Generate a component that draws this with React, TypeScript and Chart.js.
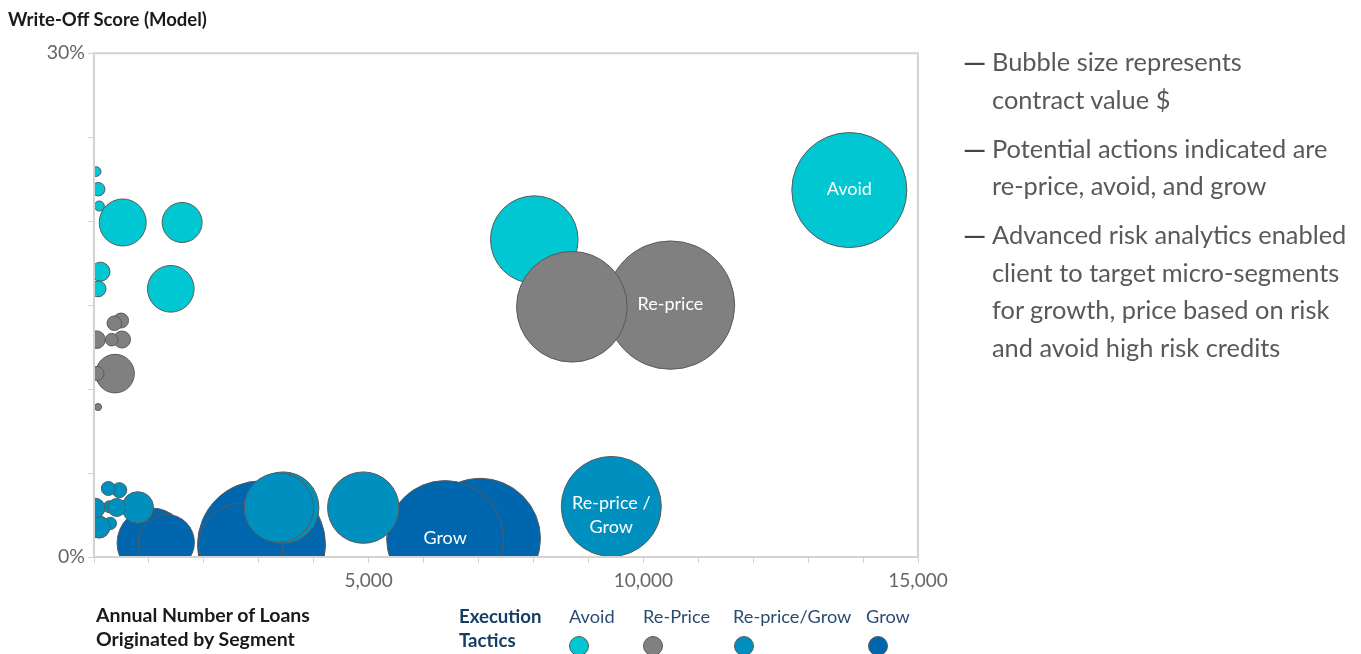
import React, { useEffect, useRef } from 'react';
import { Chart, registerables } from 'chart.js';

Chart.register(...registerables);

const FONT = 'Lato, "Noto Sans", sans-serif';

// ---- data: x = annual number of loans, y = write-off score (%), v = contract value (bubble size)
const avoidX = [40, 78, 97, 523, 1604, 118, 73, 1398, 8015, 13750];
const avoidY = [22.95, 21.9, 20.9, 19.92, 19.92, 16.99, 15.97, 15.97, 18.9, 21.85];
const avoidV = [5.8, 11.2, 6.3, 138, 100, 22.6, 16, 136, 480, 827];
const avoidLabels = ['', '', '', '', '', '', '', '', '', 'Avoid'];

const repriceX = [10494, 8699, 492, 370, 510, 323, 46, 383, 55, 73];
const repriceY = [15.0, 14.9, 14.08, 13.92, 12.95, 12.94, 12.94, 10.92, 10.93, 8.93];
const repriceV = [1030, 765, 14.1, 13.3, 18.1, 9.9, 19.4, 93.1, 12.3, 3.1];
const repriceLabels = ['Re-price', '', '', '', '', '', '', '', '', ''];

const repriceGrowX = [9417, 4902, 3444, 3366, 461, 261, 796, 279, 414, 297, 91, 18];
const repriceGrowY = [3.01, 2.94, 2.94, 2.94, 3.98, 4.08, 2.95, 2.99, 2.95, 2.0, 1.78, 2.91];
const repriceGrowV = [625, 319, 319, 301, 14.1, 12.3, 62.4, 9, 20.3, 9.6, 30.3, 25];
const repriceGrowLabels = ['Re-price /\nGrow', '', '', '', '', '', '', '', '', '', '', ''];

const growX = [1057, 1318, 3049, 2679, 7028, 6391];
const growY = [0.83, 0.87, 0.73, 0.71, 1.09, 1.07];
const growV = [306, 196, 1024, 441, 912, 853];
const growLabels = ['', '', '', '', '', 'Grow'];

const xTickLabels = [5000, 10000, 15000];
const yTickLabels = [0, 30];

const legendNames = ['Avoid', 'Re-Price', 'Re-price/Grow', 'Grow'];
const COLORS = ['#00C7D2', '#808080', '#0090BF', '#0066AE'];

const notes = [
  ['Bubble size represents', 'contract value $'],
  ['Potential actions indicated are', 're-price, avoid, and grow'],
  ['Advanced risk analytics enabled', 'client to target micro-segments', 'for growth, price based on risk', 'and avoid high risk credits'],
];

const RADIUS_PER_SQRT = 2;

function toPoints(xs: number[], ys: number[], vs: number[]) {
  return xs.map((x, i) => ({ x, y: ys[i], r: Math.sqrt(vs[i]) * RADIUS_PER_SQRT }));
}

const bubbleLabelPlugin = {
  id: 'bubbleLabels',
  afterDatasetsDraw(chart: any) {
    const ctx = chart.ctx;
    const ca = chart.chartArea;
    ctx.save();
    // frame top & right
    ctx.strokeStyle = '#d3d3d3';
    ctx.lineWidth = 2;
    ctx.beginPath();
    ctx.moveTo(ca.left, ca.top);
    ctx.lineTo(ca.right, ca.top);
    ctx.lineTo(ca.right, ca.bottom);
    ctx.stroke();
    ctx.fillStyle = '#ffffff';
    ctx.font = `18px ${FONT}`;
    ctx.textAlign = 'center';
    ctx.textBaseline = 'middle';
    chart.data.datasets.forEach((ds: any, di: number) => {
      const meta = chart.getDatasetMeta(di);
      (ds.bubbleLabels || []).forEach((lab: string, i: number) => {
        if (!lab) return;
        const el = meta.data[i];
        const lines = lab.split('\n');
        const lh = 24;
        const shift = lines.length > 1 ? 9 : -1;
        lines.forEach((ln, li) => {
          ctx.fillText(ln, el.x, el.y + (li - (lines.length - 1) / 2) * lh + shift);
        });
      });
    });
    ctx.restore();
  },
};

// canvas is shifted up so that Chart.js' bubble overflow padding (largest radius) falls above the page
const CANVAS_SHIFT = 12;

export default function App() {
  const ref = useRef<HTMLCanvasElement>(null);

  useEffect(() => {
    const common = { borderColor: '#5a5a5a', borderWidth: 1, clip: 0 };
    const chart = new Chart(ref.current as HTMLCanvasElement, {
      type: 'bubble',
      data: {
        datasets: [
          { label: legendNames[0], data: toPoints(avoidX, avoidY, avoidV), backgroundColor: COLORS[0], order: 2, bubbleLabels: avoidLabels, ...common } as any,
          { label: legendNames[1], data: toPoints(repriceX, repriceY, repriceV), backgroundColor: COLORS[1], order: 1, bubbleLabels: repriceLabels, ...common } as any,
          { label: legendNames[2], data: toPoints(repriceGrowX, repriceGrowY, repriceGrowV), backgroundColor: COLORS[2], order: 3, bubbleLabels: repriceGrowLabels, ...common } as any,
          { label: legendNames[3], data: toPoints(growX, growY, growV), backgroundColor: COLORS[3], order: 4, bubbleLabels: growLabels, ...common } as any,
        ],
      },
      options: {
        responsive: false,
        animation: false,
        devicePixelRatio: 1,
        layout: { padding: { left: 0, top: 52 + CANVAS_SHIFT, right: 443, bottom: 57 } },
        plugins: { legend: { display: false }, tooltip: { enabled: false }, title: { display: false } },
        events: [],
        scales: {
          x: {
            type: 'linear',
            min: 0,
            max: 15000,
            afterFit: (s: any) => { s.height = 40; },
            ticks: {
              stepSize: 1000,
              autoSkip: false,
              maxRotation: 0,
              padding: 6,
              color: '#666666',
              font: { family: FONT, size: 19 },
              callback: (v: any) => (xTickLabels.includes(Number(v)) ? Number(v).toLocaleString('en-US') : ''),
            },
            grid: { drawOnChartArea: false, drawTicks: true, tickLength: 6, color: '#d3d3d3', lineWidth: 1 },
            border: { display: true, color: '#d3d3d3', width: 2, z: 1 },
          },
          y: {
            type: 'linear',
            min: 0,
            max: 30,
            afterFit: (s: any) => { s.width = 94; },
            ticks: {
              stepSize: 5,
              autoSkip: false,
              padding: 3,
              color: '#666666',
              font: { family: FONT, size: 19.5 },
              callback: (v: any) => (yTickLabels.includes(Number(v)) ? `${v}%` : ''),
            },
            grid: { drawOnChartArea: false, drawTicks: true, tickLength: 6, color: '#d3d3d3', lineWidth: 1 },
            border: { display: true, color: '#d3d3d3', width: 2, z: 1 },
          },
        },
      } as any,
      plugins: [bubbleLabelPlugin],
    });
    return () => chart.destroy();
  }, []);

  const legendLabelLeft = [569, 643, 733, 866];
  const legendCircleLeft = [569, 643, 734, 868];

  return (
    <div style={{ position: 'absolute', left: 0, top: 0, width: 1361, height: 654, overflow: 'hidden', fontFamily: FONT, background: '#fff' }}>
      <canvas
        ref={ref}
        width={1361}
        height={654 + CANVAS_SHIFT}
        style={{ position: 'absolute', left: 0, top: -CANVAS_SHIFT, width: 1361, height: 654 + CANVAS_SHIFT }}
      />
      <div style={{ position: 'absolute', left: 8, top: 8, fontSize: 18.5, lineHeight: '22px', fontWeight: 700, color: '#1a1a1a', whiteSpace: 'nowrap' }}>
        Write-Off Score (Model)
      </div>
      <div style={{ position: 'absolute', left: 963, top: 43, color: '#595959', fontSize: 25.4, lineHeight: '37.5px', whiteSpace: 'nowrap' }}>
        {notes.map((lines, i) => (
          <div key={i} style={{ display: 'flex', marginBottom: 11.5 }}>
            <span style={{ width: 29, display: 'inline-block', flex: 'none' }}>
              <span style={{ display: 'inline-block', transform: 'scaleX(1.15)', transformOrigin: 'left center', color: '#444', fontWeight: 700 }}>—</span>
            </span>
            <div>
              {lines.map((l, j) => (
                <div key={j}>{l}</div>
              ))}
            </div>
          </div>
        ))}
      </div>
      <div style={{ position: 'absolute', left: 96, top: 603, fontSize: 19.5, lineHeight: '24px', fontWeight: 700, color: '#1a1a1a', whiteSpace: 'nowrap' }}>
        Annual Number of Loans
        <br />
        Originated by Segment
      </div>
      <div style={{ position: 'absolute', left: 459, top: 604, fontSize: 18.6, lineHeight: '24px', fontWeight: 700, color: '#173d64', whiteSpace: 'nowrap' }}>
        Execution
        <br />
        Tactics
      </div>
      {legendNames.map((n, i) => (
        <React.Fragment key={n}>
          <div style={{ position: 'absolute', left: legendLabelLeft[i], top: 604, fontSize: 18.2, lineHeight: '24px', color: '#2b4c6f', whiteSpace: 'nowrap' }}>{n}</div>
          <div style={{ position: 'absolute', left: legendCircleLeft[i], top: 636, width: 18, height: 18, borderRadius: '50%', background: COLORS[i], border: '1px solid #5a5a5a' }} />
        </React.Fragment>
      ))}
    </div>
  );
}
